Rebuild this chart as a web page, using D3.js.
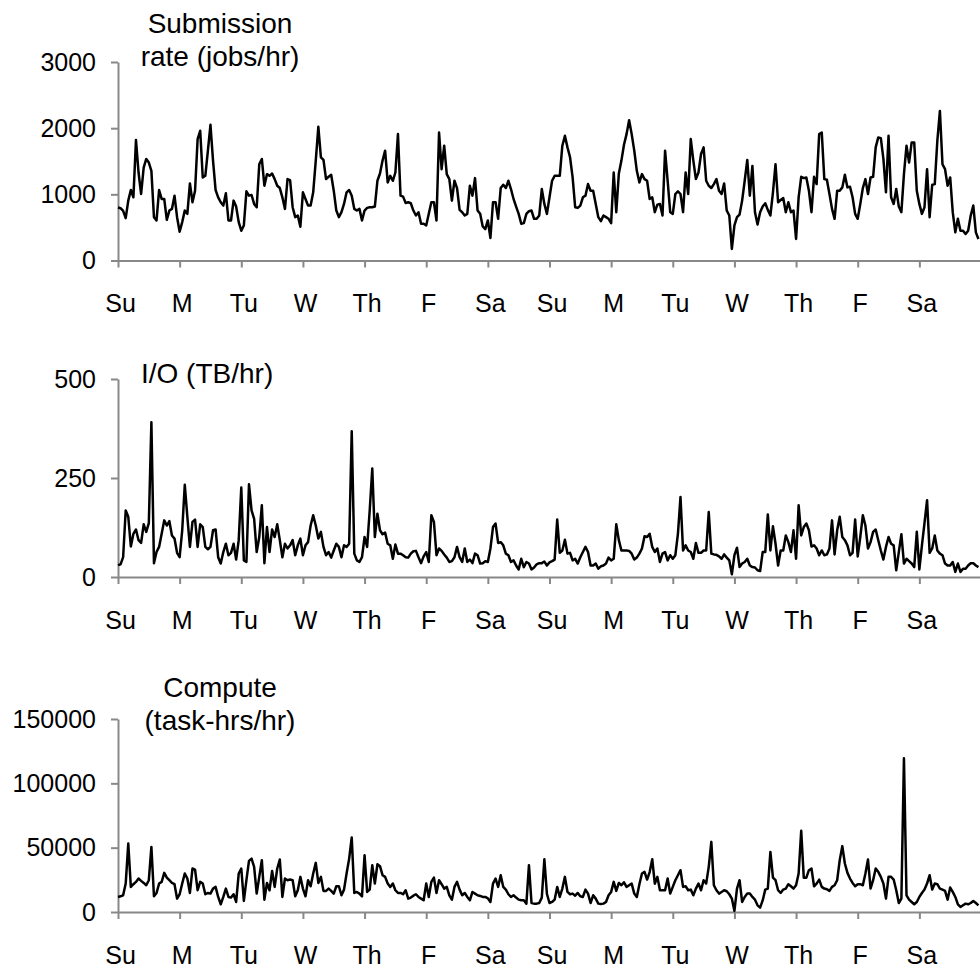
<!DOCTYPE html>
<html>
<head>
<meta charset="utf-8">
<script src="https://cdn.jsdelivr.net/npm/d3@7"></script>
<style>
  body { margin: 0; background: #fff; }
</style>
</head>
<body>
<svg width="980" height="972"></svg>
<script>
// two weeks of hourly samples
const days = ['Su', 'M', 'Tu', 'W', 'Th', 'F', 'Sa', 'Su', 'M', 'Tu', 'W', 'Th', 'F', 'Sa'];

const submissionTicks = [0, 1000, 2000, 3000];
const ioTicks = [0, 250, 500];
const computeTicks = [0, 50000, 100000, 150000];

// jobs/hr
const submission = [
  800, 790, 750, 640, 905, 1065, 955, 1820, 1330, 1005, 1405, 1535, 1480, 1355, 655, 605, 1065, 930, 930, 615, 755, 780, 980, 655,
  435, 580, 755, 705, 1165, 880, 1055, 1835, 1960, 1255, 1280, 1660, 2050, 1510, 1065, 955, 880, 830, 1015, 605, 605, 905, 815, 580,
  450, 530, 1045, 980, 990, 855, 805, 1455, 1535, 1130, 1305, 1280, 1315, 1230, 1130, 1095, 955, 780, 1230, 1215, 805, 655, 680, 510,
  1030, 930, 830, 830, 1030, 1510, 2020, 1560, 1520, 1230, 1265, 1295, 1055, 755, 655, 730, 855, 1030, 1065, 980, 780, 755, 780, 605,
  755, 795, 805, 805, 815, 1205, 1315, 1510, 1660, 1180, 1280, 1205, 1330, 1910, 980, 965, 870, 880, 865, 755, 680, 730, 555, 555,
  530, 705, 880, 880, 605, 1935, 1380, 1735, 1305, 1230, 905, 1205, 1095, 765, 730, 680, 705, 1130, 980, 1245, 755, 705, 515, 475,
  605, 340, 880, 880, 630, 1095, 1145, 1095, 1205, 1080, 930, 815, 705, 555, 565, 705, 745, 755, 630, 630, 680, 1080, 855, 705,
  955, 1205, 1280, 1280, 1280, 1735, 1885, 1710, 1560, 1255, 805, 795, 830, 955, 980, 1155, 1055, 1055, 855, 655, 595, 680, 655, 630,
  565, 1330, 730, 1315, 1510, 1750, 1910, 2120, 1910, 1660, 1355, 1180, 1305, 1230, 1205, 930, 955, 730, 845, 855, 680, 1660, 1205, 730,
  705, 1005, 1045, 1005, 730, 1330, 1005, 1835, 1510, 1230, 1330, 1610, 1710, 1205, 1130, 1095, 1155, 1230, 1055, 1005, 1165, 755, 680, 175,
  530, 655, 695, 905, 1205, 1520, 980, 1430, 730, 545, 730, 815, 865, 765, 680, 1030, 1455, 880, 915, 945, 730, 880, 730, 755,
  325, 955, 1265, 1245, 1255, 1055, 730, 1265, 1155, 1910, 1935, 1230, 1220, 1005, 780, 630, 1055, 1055, 1105, 1295, 1105, 1115, 955, 705,
  630, 855, 1095, 1230, 1005, 1255, 1265, 1710, 1860, 1850, 1535, 1030, 1885, 955, 855, 1080, 815, 730, 1305, 1735, 1480, 1785, 1785, 1055,
  855, 705, 805, 1380, 655, 1145, 1155, 1810, 2260, 1455, 1380, 1130, 1255, 730, 425, 630, 450, 450, 400, 450, 680, 830, 425, 325,
];

// TB/hr
const io = [
  30, 32, 50, 168, 152, 77, 109, 120, 93, 86, 133, 114, 136, 391, 35, 63, 76, 109, 143, 130, 141, 105, 97, 61,
  50, 118, 233, 152, 76, 139, 145, 76, 133, 126, 76, 70, 76, 118, 120, 50, 34, 63, 84, 55, 61, 84, 44, 93,
  226, 42, 38, 234, 168, 147, 63, 101, 181, 35, 126, 63, 120, 101, 133, 93, 50, 84, 72, 80, 93, 55, 80, 97,
  55, 80, 88, 130, 156, 130, 97, 114, 76, 55, 63, 49, 67, 84, 76, 50, 80, 76, 84, 368, 59, 42, 38, 50,
  101, 76, 168, 274, 101, 160, 118, 108, 112, 84, 80, 46, 82, 59, 59, 55, 50, 49, 59, 65, 66, 50, 35, 52,
  63, 38, 156, 139, 55, 72, 66, 57, 49, 38, 40, 50, 76, 50, 38, 72, 38, 44, 35, 59, 55, 34, 35, 40,
  38, 72, 126, 135, 86, 88, 80, 59, 55, 38, 42, 29, 19, 46, 25, 38, 34, 19, 24, 32, 35, 35, 39, 29,
  37, 40, 44, 145, 61, 67, 94, 59, 61, 42, 46, 34, 50, 63, 76, 63, 29, 29, 34, 21, 27, 29, 34, 49,
  42, 46, 133, 93, 67, 67, 67, 66, 59, 44, 49, 59, 72, 103, 101, 109, 76, 63, 72, 38, 59, 63, 42, 55,
  46, 55, 109, 202, 67, 80, 67, 63, 46, 86, 61, 61, 67, 67, 164, 59, 57, 56, 52, 46, 57, 49, 42, 7,
  55, 74, 25, 34, 38, 46, 29, 25, 24, 17, 15, 63, 63, 158, 67, 128, 84, 29, 67, 67, 105, 88, 63, 118,
  46, 181, 105, 126, 135, 118, 77, 80, 72, 55, 67, 55, 57, 72, 143, 57, 118, 152, 101, 93, 80, 55, 61, 145,
  52, 101, 156, 130, 72, 88, 114, 120, 93, 67, 44, 76, 101, 84, 80, 17, 63, 108, 34, 46, 40, 34, 25, 114,
  19, 80, 136, 194, 61, 72, 105, 67, 59, 55, 34, 29, 29, 38, 13, 34, 13, 21, 21, 29, 35, 35, 29, 25,
];

// task-hrs/hr
const compute = [
  11700, 12200, 13000, 22100, 53200, 19500, 21600, 23400, 26000, 24200, 22600, 20800, 24700, 50600, 12200, 14800, 22100, 23400, 30400, 26700, 24700, 22600, 21600, 10400,
  13800, 22100, 29900, 26000, 14800, 33800, 33000, 16900, 23400, 22100, 13800, 14800, 14300, 18200, 19500, 11700, 6000, 11700, 18200, 11700, 11200, 13800, 7800, 29900,
  33800, 8600, 24700, 39700, 41500, 35100, 14300, 27300, 40300, 9600, 22600, 16900, 31900, 19500, 33800, 40800, 11700, 26000, 24700, 25200, 24700, 12200, 16900, 27300,
  18200, 12200, 24700, 20000, 29900, 38200, 22600, 27300, 16400, 16400, 18200, 16400, 14300, 20000, 20000, 13000, 17400, 29900, 41500, 57900, 14800, 15600, 14300, 12200,
  44100, 15600, 17400, 36400, 22100, 37100, 35600, 28600, 27300, 22100, 19500, 22100, 16900, 14800, 14800, 13800, 16900, 10400, 11200, 12700, 13800, 11700, 10400, 9100,
  22100, 11700, 23400, 26700, 14800, 24700, 21600, 18200, 19500, 13000, 9600, 19500, 23400, 17400, 13000, 14800, 11700, 9100, 15600, 14300, 13000, 12500, 11700, 11700,
  10600, 7800, 22100, 26000, 19500, 28600, 19500, 17400, 13800, 11700, 13000, 11200, 9600, 9100, 9100, 6500, 36400, 7000, 6500, 6500, 7000, 11200, 41000, 14000,
  7000, 7800, 9600, 19500, 11700, 18200, 27300, 15600, 13800, 14300, 12700, 14800, 12200, 11700, 17400, 14300, 7000, 13000, 10400, 6500, 6200, 6500, 7800, 13000,
  15600, 23400, 16400, 22600, 20800, 23100, 19500, 20800, 22100, 14300, 11700, 21600, 29900, 31200, 25200, 31000, 41000, 22000, 27300, 16900, 16900, 16900, 26000, 14300,
  19500, 24700, 28600, 32500, 19500, 20000, 16900, 17400, 13000, 18200, 22100, 16900, 24700, 22100, 35100, 54500, 20800, 16900, 14300, 15600, 16900, 16100, 13800, 10400,
  800, 18200, 24700, 7800, 11700, 14300, 14300, 11700, 9600, 5200, 3400, 9000, 17400, 18200, 46700, 26700, 24700, 16900, 14800, 17400, 18200, 21600, 20000, 18200,
  20800, 29900, 63100, 26700, 26700, 32500, 33800, 20000, 22100, 25200, 19500, 18200, 17700, 16400, 19500, 20800, 24700, 40300, 51200, 37700, 30400, 26000, 22600, 20000,
  21600, 21600, 20800, 29900, 40800, 18200, 24700, 33800, 31200, 27300, 22100, 10400, 27300, 27300, 25200, 16900, 7000, 10400, 119500, 13000, 9600, 7800, 6000, 7800,
  11700, 14800, 17400, 22100, 28600, 17400, 22100, 21600, 18200, 17400, 16400, 9600, 19000, 15600, 11700, 6000, 3900, 5200, 6500, 6000, 7000, 8600, 7000, 5200,
];

const HOURS = 24;
const font = '"Liberation Sans", Arial, sans-serif';
const grey = '#888888';

const svg = d3.select('svg');

const hourScale = d3.scaleLinear([0, HOURS * days.length], [118, 981]);
const dayStarts = days.map((d, i) => i * HOURS);

const panels = [
  { values: submission, ticks: submissionTicks, top: 62, bottom: 260.5,
    title: [{ text: 'Submission', x: 220, y: 33 }, { text: 'rate (jobs/hr)', x: 220, y: 66 }], anchor: 'middle' },
  { values: io, ticks: ioTicks, top: 379, bottom: 577,
    title: [{ text: 'I/O (TB/hr)', x: 141, y: 383 }], anchor: 'start' },
  { values: compute, ticks: computeTicks, top: 719, bottom: 912,
    title: [{ text: 'Compute', x: 220, y: 697 }, { text: '(task-hrs/hr)', x: 220, y: 730 }], anchor: 'middle' },
];

function styleAxis(g) {
  g.selectAll('path, line')
    .attr('stroke', grey)
    .attr('stroke-width', 2);
  g.selectAll('text')
    .attr('fill', '#000')
    .style('font-family', font)
    .style('font-size', '25px');
}

panels.forEach((p) => {
  const valueScale = d3.scaleLinear([0, d3.max(p.ticks)], [p.bottom, p.top]);

  const xAxis = d3.axisBottom(hourScale)
    .tickValues(dayStarts)
    .tickFormat((d, i) => days[i])
    .tickSize(7)
    .tickSizeOuter(0)
    .tickPadding(27);

  const yAxis = d3.axisLeft(valueScale)
    .tickValues(p.ticks)
    .tickFormat(d3.format('d'))
    .tickSize(7)
    .tickSizeOuter(0)
    .tickPadding(15);

  svg.append('g')
    .attr('transform', `translate(0, ${p.bottom})`)
    .call(xAxis)
    .call(styleAxis)
    .selectAll('.tick text')
      .attr('x', 2);

  svg.append('g')
    .attr('transform', `translate(${hourScale(0)}, 0)`)
    .call(yAxis)
    .call(styleAxis);

  const line = d3.line()
    .x((d, i) => hourScale(i))
    .y((d) => valueScale(d));

  svg.append('path')
    .attr('d', line(p.values))
    .attr('fill', 'none')
    .attr('stroke', '#000')
    .attr('stroke-width', 2.5)
    .attr('stroke-linejoin', 'round');

  p.title.forEach((t) => {
    svg.append('text')
      .text(t.text)
      .attr('x', t.x)
      .attr('y', t.y)
      .attr('text-anchor', p.anchor)
      .style('font-family', font)
      .style('font-size', '28px');
  });
});
</script>
</body>
</html>
